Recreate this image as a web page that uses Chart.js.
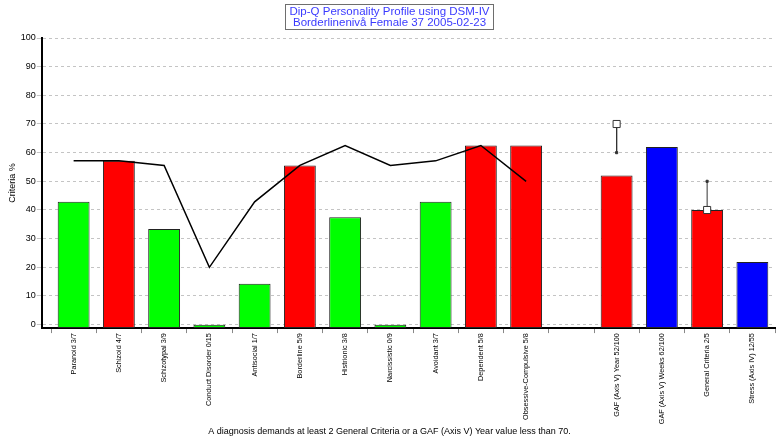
<!DOCTYPE html>
<html>
<head>
<meta charset="utf-8">
<script src="https://cdn.jsdelivr.net/npm/chart.js@4"></script>
<style>
  html, body { margin: 0; padding: 0; background: #fff; }
  #chart { display: block; }
</style>
</head>
<body>
<canvas id="chart" width="781" height="438"></canvas>
<script>
// categories (slot 11 is the empty gap between the two groups)
const labels = [
  'Paranoid 3/7', 'Schizoid 4/7', 'Schizotypal 3/9', 'Conduct Disorder 0/15',
  'Antisocial 1/7', 'Borderline 5/9', 'Histrionic 3/8', 'Narcissistic 0/9',
  'Avoidant 3/7', 'Dependent 5/8', 'Obsessive-Compulsive 5/8', '',
  'GAF (Axis V) Year 52/100', 'GAF (Axis V) Weeks 62/100', 'General Criteria 2/5',
  'Stress (Axis IV) 12/55'
];
const barSlots = [0, 1, 2, 3, 4, 5, 6, 7, 8, 9, 10, 12, 13, 14, 15];
const barValues = [42.86, 57.14, 33.33, 0, 14.29, 55.56, 37.5, 0, 42.86, 62.5, 62.5, 52, 62, 40, 21.82];
const barColors = ['#00ff00', '#ff0000', '#00ff00', '#00ff00', '#00ff00', '#ff0000', '#00ff00', '#00ff00',
  '#00ff00', '#ff0000', '#ff0000', '#ff0000', '#0000ff', '#ff0000', '#0000ff'];
// threshold line over the personality disorders
const thresholdValues = [57.14, 57.14, 55.56, 20, 42.86, 55.56, 62.5, 55.56, 57.14, 62.5, 50];
// markers: [slot, from, to]
const markers = [[12, 70, 60], [14, 40, 50]];
const yTicks = [0, 10, 20, 30, 40, 50, 60, 70, 80, 90, 100];

const font = 'Liberation Sans, Arial, sans-serif';
const yMin = -1.2;

const markerData = [];
markers.forEach(function (m, i) {
  if (i > 0) markerData.push({ x: m[0] - 0.5, y: null });
  markerData.push({ x: m[0], y: m[1] });
  markerData.push({ x: m[0], y: m[2] });
});

// box around the title
const titleBox = {
  id: 'titleBox',
  afterDraw: function (chart) {
    const tb = chart.titleBlock;
    if (!tb) return;
    const ctx = chart.ctx;
    ctx.save();
    ctx.font = '11.5px ' + font;
    let w = 0;
    chart.options.plugins.title.text.forEach(function (t) {
      w = Math.max(w, ctx.measureText(t).width);
    });
    const cx = tb.left + tb.width / 2;
    const x = Math.round(cx - w / 2 - 4) + 0.5;
    ctx.strokeStyle = '#6e6e6e';
    ctx.lineWidth = 1;
    ctx.strokeRect(x, 4.5, Math.round(w + 8), 25);
    ctx.restore();
  }
};

new Chart(document.getElementById('chart'), {
  type: 'bar',
  data: {
    datasets: [
      {
        type: 'line',
        data: markerData,
        borderColor: '#333',
        borderWidth: 1,
        spanGaps: false,
        pointStyle: 'rect',
        pointRadius: function (c) { return c.dataIndex % 3 === 0 ? 5 : 1.5; },
        pointBackgroundColor: function (c) { return c.dataIndex % 3 === 0 ? '#fff' : '#333'; },
        pointBorderColor: '#333',
        pointBorderWidth: 1,
        order: 0
      },
      {
        type: 'line',
        data: thresholdValues.map(function (v, i) { return { x: i, y: v }; }),
        borderColor: '#000',
        borderWidth: 1.5,
        pointRadius: 0,
        tension: 0,
        order: 1
      },
      {
        type: 'bar',
        data: barValues.map(function (v, i) { return { x: barSlots[i], y: v }; }),
        backgroundColor: barColors,
        borderColor: '#222',
        borderWidth: 1,
        borderSkipped: false,
        base: yMin,
        barPercentage: 0.88,
        categoryPercentage: 0.8,
        order: 2
      }
    ]
  },
  options: {
    responsive: false,
    animation: false,
    layout: { padding: { left: 0, right: 2, top: 0, bottom: 0 } },
    plugins: {
      legend: { display: false },
      tooltip: { enabled: false },
      title: {
        display: true,
        text: ['Dip-Q Personality Profile using DSM-IV', 'Borderlinenivå Female 37 2005-02-23'],
        color: '#3a3aff',
        font: { family: font, size: 11.5, weight: 'normal', lineHeight: 1.0 },
        padding: { top: 6, bottom: 9 }
      },
      subtitle: {
        display: true,
        position: 'bottom',
        text: 'A diagnosis demands at least 2 General Criteria or a GAF (Axis V) Year value less than 70.',
        color: '#000',
        font: { family: font, size: 9, weight: 'normal' },
        padding: { top: 2, bottom: 1 }
      }
    },
    scales: {
      x: {
        type: 'linear',
        offset: false,
        min: -0.703,
        max: 15.5,
        afterBuildTicks: function (axis) {
          axis.ticks = labels.map(function (l, i) { return { value: i }; });
        },
        ticks: {
          autoSkip: false,
          maxRotation: 90,
          minRotation: 90,
          padding: 0,
          color: '#000',
          font: { family: font, size: 7.3 },
          callback: function (v) { return labels[v] || ''; }
        },
        grid: { display: true, drawOnChartArea: false, tickLength: 5, color: '#888' },
        border: { color: '#000', width: 2 }
      },
      y: {
        min: yMin,
        max: 100,
        afterBuildTicks: function (axis) {
          axis.ticks = yTicks.map(function (v) { return { value: v }; });
        },
        ticks: {
          color: '#000',
          padding: 1,
          font: { family: font, size: 9 }
        },
        grid: { color: '#c4c4c4', tickLength: 5 },
        border: { color: '#000', width: 2, dash: [3, 3] },
        title: {
          display: true,
          text: 'Criteria %',
          color: '#000',
          font: { family: font, size: 9 },
          padding: { top: 7, bottom: 2 }
        }
      }
    }
  },
  plugins: [titleBox]
});
</script>
</body>
</html>
